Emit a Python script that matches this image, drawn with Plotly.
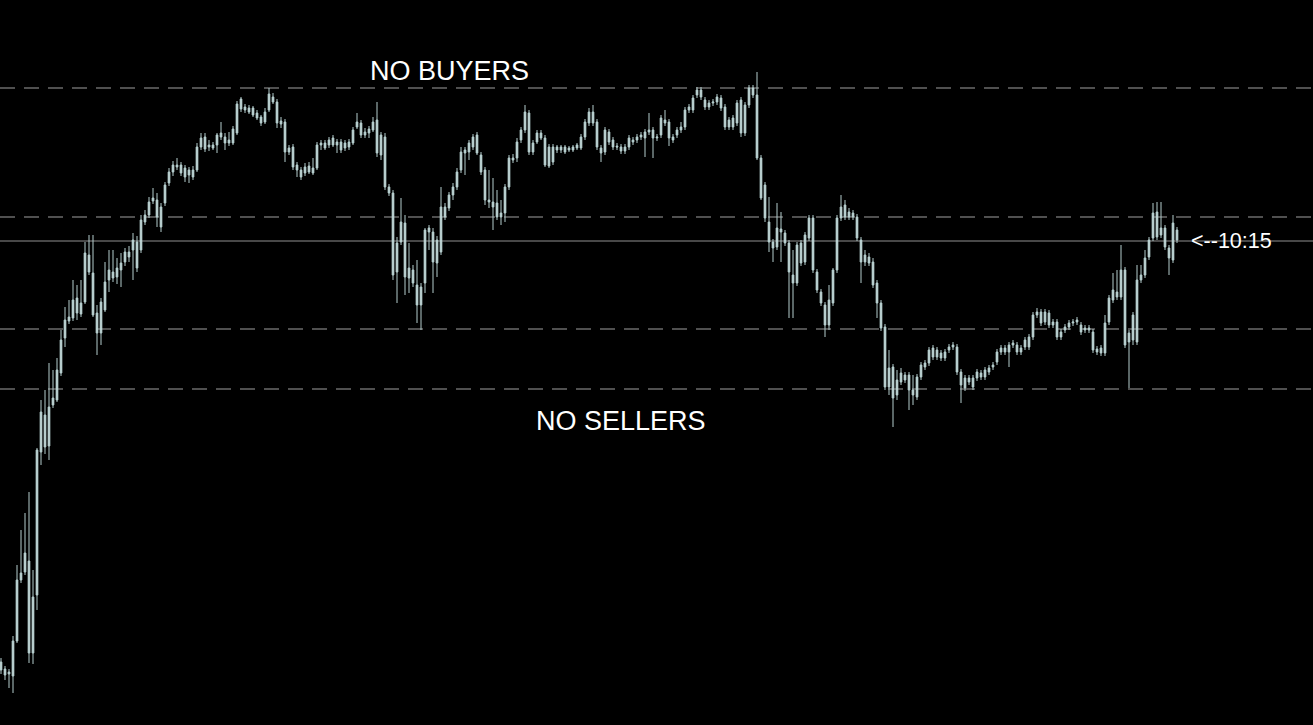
import plotly.graph_objects as go

# OHLC values, one candle per bar slot (arbitrary price points)
OPEN = [
    63, 56, 51, 49, 84, 145, 172, 164, 72, 130,
    273, 278, 279, 320, 325, 352, 387, 404, 407, 427,
    411, 423, 470, 452, 392, 392, 415, 445, 447, 448,
    455, 463, 468, 485, 457, 475, 503, 510, 527, 525,
    498, 522, 542, 553, 560, 560, 548, 555, 548, 555,
    587, 588, 580, 577, 580, 592, 588, 582, 582, 592,
    626, 618, 617, 617, 612, 602, 603, 615, 628, 623,
    604, 603, 577, 578, 560, 548, 552, 559, 552, 557,
    582, 577, 580, 587, 583, 575, 577, 578, 582, 603,
    602, 590, 592, 603, 605, 570, 588, 538, 532, 453,
    483, 502, 457, 455, 440, 420, 442, 497, 493, 462,
    473, 508, 517, 530, 538, 555, 572, 573, 578, 590,
    570, 555, 525, 523, 522, 508, 512, 538, 565, 567,
    585, 595, 612, 573, 583, 592, 587, 559, 563, 578,
    575, 578, 575, 575, 577, 577, 588, 602, 613, 603,
    572, 573, 593, 585, 579, 578, 574, 578, 583, 585,
    588, 587, 595, 595, 587, 590, 605, 603, 585, 590,
    595, 598, 615, 615, 630, 635, 625, 618, 622, 628,
    627, 618, 598, 598, 602, 625, 592, 620, 637, 630,
    567, 540, 503, 477, 478, 496, 492, 482, 442, 442,
    462, 463, 487, 507, 453, 433, 420, 400, 422, 455,
    507, 520, 513, 512, 508, 485, 463, 468, 463, 442,
    422, 398, 338, 358, 330, 352, 350, 350, 330, 328,
    348, 358, 362, 377, 375, 367, 367, 375, 380, 378,
    353, 337, 347, 338, 347, 348, 348, 353, 358, 363,
    373, 377, 373, 382, 380, 373, 378, 378, 388, 413,
    402, 413, 412, 403, 403, 388, 395, 398, 402, 405,
    400, 395, 397, 393, 376, 372, 372, 403, 425, 433,
    428, 455, 383, 385, 383, 445, 450, 468, 487, 513,
    497, 497, 467, 465, 495,
]
HIGH = [
    67, 59, 56, 89, 160, 195, 212, 233, 155, 277,
    325, 335, 362, 355, 367, 395, 418, 425, 445, 440,
    445, 483, 490, 490, 420, 427, 463, 475, 475, 467,
    472, 477, 479, 492, 489, 510, 515, 528, 537, 532,
    522, 543, 557, 564, 567, 563, 560, 558, 559, 582,
    592, 592, 585, 583, 592, 603, 592, 593, 599, 624,
    628, 621, 620, 619, 615, 610, 617, 637, 632, 626,
    608, 606, 580, 581, 563, 558, 562, 563, 567, 583,
    585, 585, 588, 590, 586, 586, 585, 586, 598, 612,
    605, 597, 599, 608, 623, 593, 592, 541, 535, 488,
    527, 510, 482, 460, 465, 442, 497, 500, 497, 489,
    538, 522, 533, 542, 557, 578, 578, 585, 591, 593,
    573, 558, 555, 547, 535, 525, 541, 570, 571, 587,
    598, 620, 615, 585, 595, 595, 590, 581, 581, 580,
    580, 580, 579, 580, 582, 591, 606, 617, 620, 606,
    580, 598, 596, 588, 582, 581, 581, 590, 588, 591,
    593, 596, 612, 598, 591, 610, 615, 606, 591, 598,
    603, 618, 621, 630, 638, 638, 628, 625, 626, 631,
    630, 621, 608, 610, 625, 628, 623, 640, 640, 653,
    570, 543, 528, 486, 522, 513, 495, 485, 475, 483,
    485, 493, 510, 510, 456, 436, 423, 440, 457, 510,
    530, 525, 517, 515, 511, 488, 475, 472, 467, 445,
    425, 401, 375, 361, 355, 357, 353, 353, 350, 351,
    363, 365, 378, 380, 378, 375, 376, 381, 383, 381,
    356, 350, 350, 350, 356, 355, 358, 360, 363, 376,
    380, 380, 383, 385, 383, 380, 388, 391, 413, 417,
    416, 416, 415, 406, 406, 396, 401, 405, 406, 408,
    403, 400, 400, 396, 379, 380, 410, 430, 452, 455,
    480, 458, 395, 413, 460, 460, 475, 488, 522, 523,
    523, 500, 480, 510, 498,
]
LOW = [
    51, 45, 37, 32, 82, 142, 150, 62, 61, 115,
    260, 271, 265, 317, 323, 349, 378, 401, 404, 405,
    408, 421, 450, 408, 370, 380, 413, 433, 443, 441,
    438, 459, 463, 445, 453, 472, 500, 507, 521, 498,
    493, 519, 539, 549, 555, 549, 543, 542, 545, 553,
    575, 573, 574, 575, 572, 585, 575, 579, 580, 590,
    613, 612, 611, 608, 605, 599, 601, 613, 621, 597,
    597, 563, 570, 555, 548, 545, 549, 551, 550, 555,
    575, 575, 577, 578, 572, 572, 574, 575, 580, 596,
    587, 587, 587, 593, 568, 565, 535, 529, 445, 422,
    480, 430, 432, 438, 402, 395, 432, 475, 432, 448,
    470, 505, 514, 525, 535, 552, 550, 565, 575, 570,
    550, 520, 517, 495, 505, 500, 503, 535, 562, 563,
    582, 592, 570, 570, 581, 585, 558, 557, 560, 572,
    572, 571, 573, 573, 575, 575, 585, 599, 599, 575,
    563, 570, 580, 575, 575, 571, 571, 575, 580, 582,
    585, 568, 590, 567, 584, 587, 599, 579, 582, 587,
    592, 595, 612, 612, 627, 625, 615, 615, 619, 620,
    614, 595, 595, 595, 599, 588, 589, 617, 627, 565,
    525, 503, 473, 463, 475, 463, 479, 407, 407, 439,
    459, 460, 484, 452, 432, 419, 388, 395, 419, 452,
    504, 505, 505, 505, 484, 442, 459, 459, 437, 407,
    394, 335, 330, 298, 325, 340, 342, 315, 320, 325,
    345, 355, 359, 365, 365, 364, 364, 372, 375, 350,
    322, 334, 340, 335, 344, 345, 345, 350, 355, 360,
    370, 370, 358, 377, 370, 370, 375, 375, 385, 407,
    399, 400, 397, 397, 385, 385, 392, 395, 399, 400,
    390, 392, 392, 372, 370, 369, 369, 400, 422, 425,
    425, 377, 337, 380, 380, 442, 447, 465, 484, 485,
    487, 475, 450, 462, 482,
]
CLOSE = [
    55, 50, 53, 84, 145, 152, 153, 72, 128, 275,
    313, 310, 318, 327, 355, 385, 405, 408, 425, 412,
    422, 472, 453, 410, 412, 423, 443, 455, 453, 457,
    462, 473, 473, 475, 483, 505, 510, 523, 524, 508,
    518, 540, 553, 560, 558, 552, 557, 550, 555, 578,
    578, 576, 578, 580, 590, 588, 582, 585, 596, 621,
    616, 615, 613, 610, 607, 608, 613, 631, 623, 602,
    601, 573, 573, 558, 555, 555, 558, 553, 557, 580,
    580, 582, 585, 580, 580, 583, 582, 583, 595, 598,
    590, 593, 596, 595, 572, 590, 538, 532, 450, 482,
    503, 448, 447, 442, 420, 438, 495, 493, 463, 485,
    518, 518, 530, 538, 553, 573, 575, 582, 588, 572,
    553, 525, 523, 518, 508, 512, 538, 567, 567, 583,
    595, 613, 573, 582, 592, 587, 560, 578, 578, 575,
    578, 573, 577, 578, 580, 588, 603, 613, 602, 578,
    577, 595, 583, 578, 578, 574, 578, 587, 585, 588,
    590, 593, 593, 587, 588, 607, 602, 587, 588, 595,
    598, 615, 618, 627, 635, 628, 618, 622, 623, 623,
    617, 598, 605, 607, 622, 592, 620, 637, 630, 567,
    527, 507, 483, 483, 497, 493, 482, 453, 450, 480,
    482, 490, 507, 455, 435, 422, 400, 425, 455, 507,
    518, 508, 508, 508, 487, 463, 470, 462, 440, 422,
    397, 338, 357, 327, 345, 343, 345, 335, 335, 348,
    360, 362, 375, 368, 368, 372, 373, 378, 378, 353,
    340, 347, 343, 347, 353, 352, 355, 357, 360, 373,
    377, 373, 380, 380, 373, 377, 385, 388, 410, 410,
    413, 403, 400, 400, 388, 393, 398, 402, 403, 403,
    393, 397, 395, 375, 373, 377, 402, 427, 435, 428,
    455, 380, 392, 410, 445, 450, 467, 485, 512, 488,
    490, 478, 477, 502, 485,
]
assert len(OPEN) == len(HIGH) == len(LOW) == len(CLOSE)
BARS = list(range(len(CLOSE)))

# levels
NO_BUYERS_LVL = 637
RESIST_LVL = 508
SUPPORT_LVL = 396
NO_SELLERS_LVL = 336
LAST_PRICE = 484

CANDLE_LINE = "#b4cdcd"
CANDLE_FILL = "#e2f3f3"
LEVEL_GRAY = "#a0a0a0"
FONT = "Liberation Sans, Arial, sans-serif"

fig = go.Figure(go.Candlestick(
    x=BARS, open=OPEN, high=HIGH, low=LOW, close=CLOSE,
    increasing=dict(line=dict(color=CANDLE_LINE, width=1), fillcolor=CANDLE_FILL),
    decreasing=dict(line=dict(color=CANDLE_LINE, width=1), fillcolor=CANDLE_FILL),
    whiskerwidth=0,
    showlegend=False,
    hoverinfo="skip",
))

for lvl in [NO_BUYERS_LVL, RESIST_LVL, SUPPORT_LVL, NO_SELLERS_LVL]:
    fig.add_hline(y=lvl, line=dict(color=LEVEL_GRAY, width=1, dash="15px,9px"), layer="below")
fig.add_hline(y=LAST_PRICE, line=dict(color="#909090", width=1), layer="below")

fig.add_annotation(x=112, y=654, text="NO BUYERS", showarrow=False,
                   font=dict(family=FONT, size=27, color="white"))
fig.add_annotation(x=155, y=304, text="NO SELLERS", showarrow=False,
                   font=dict(family=FONT, size=27, color="white"))
fig.add_annotation(x=297.1, y=LAST_PRICE, text="<--10:15", showarrow=False,
                   xanchor="left", font=dict(family=FONT, size=21.5, color="white"))

fig.update_layout(
    width=1313, height=725,
    paper_bgcolor="black", plot_bgcolor="black",
    margin=dict(l=0, r=0, t=0, b=0),
    boxgap=0.4,
    xaxis=dict(range=[-0.25, 328.0], visible=False, rangeslider=dict(visible=False), fixedrange=True),
    yaxis=dict(range=[0, 725], visible=False, fixedrange=True),
)

fig.write_html("out.html", config={"displayModeBar": False},
               post_script="document.body.style.margin='0';document.body.style.overflow='hidden';")
